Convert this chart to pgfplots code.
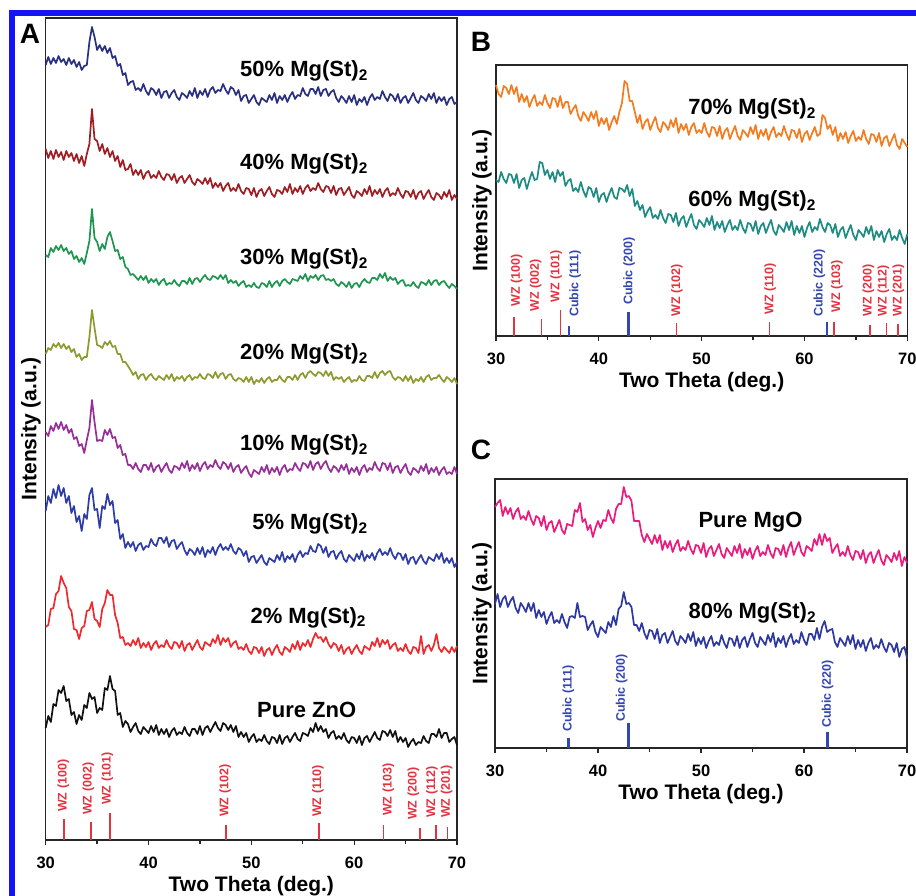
\documentclass[border=0pt]{standalone}
\usepackage{fontspec}
\setmainfont{Liberation Sans}
\usepackage{pgfplots}
\usepackage{pgfplotstable}
\pgfplotsset{compat=1.18}

\definecolor{cZnO}{HTML}{111111}
\definecolor{cTwo}{HTML}{EE2A2E}
\definecolor{cFive}{HTML}{2E3CA5}
\definecolor{cTen}{HTML}{972F98}
\definecolor{cTwenty}{HTML}{8C9A2E}
\definecolor{cThirty}{HTML}{1E9650}
\definecolor{cForty}{HTML}{9E1E24}
\definecolor{cFifty}{HTML}{29307E}
\definecolor{cSeventy}{HTML}{F47C20}
\definecolor{cSixty}{HTML}{1F8C84}
\definecolor{cMgO}{HTML}{EC1A7C}
\definecolor{cEighty}{HTML}{2D38A0}
\definecolor{cWZ}{HTML}{E33340}
\definecolor{cCub}{HTML}{3446B0}
\definecolor{cFrame}{HTML}{1414F5}

% intensities in px above the axis floor, a.u.
\pgfplotstableread{
x zno m2 m5 m10 m20 m30 m40 m50
30.00 112 213 329 408 486 585 691 775
30.25 124 215 344 404 492 583 682 783
30.50 118 231 337 414 490 592 689 776
30.75 136 232 351 409 496 588 681 782
31.00 134 246 342 417 493 594 690 777
31.25 150 249 355 411 497 590 683 784
31.50 147 264 344 418 492 595 688 778
31.75 154 257 352 410 496 589 680 781
32.00 139 252 337 415 491 592 689 775
32.25 141 233 344 407 494 586 683 782
32.50 125 229 327 411 488 589 687 776
32.75 128 211 334 401 491 581 679 780
33.00 116 210 318 403 483 584 686 773
33.25 125 201 324 394 486 578 677 778
33.50 120 212 309 396 480 582 684 770
33.75 135 214 326 387 483 576 674 774
34.00 132 229 321 400 483 587 686 775
34.25 147 230 345 412 503 599 696 798
34.50 141 238 352 440 530 631 731 813
34.75 143 221 330 418 512 602 701 803
35.00 127 219 331 399 495 598 699 790
35.25 132 213 312 400 494 589 689 795
35.50 130 231 334 399 492 596 696 789
35.75 152 237 331 410 498 591 686 794
36.00 150 250 346 405 495 603 692 787
36.25 164 245 335 411 499 608 683 792
36.50 151 245 339 402 493 599 689 782
36.75 149 225 317 403 494 589 679 784
37.00 125 217 320 392 486 590 684 774
37.25 127 202 301 395 486 581 673 776
37.50 113 203 306 385 478 583 680 765
37.75 119 195 292 386 478 573 670 767
38.00 116 197 298 375 474 571 671 755
38.25 108 194 293 375 470 565 676 758
38.50 113 200 298 371 465 566 665 759
38.75 117 195 289 377 468 563 670 750
39.00 109 202 295 371 461 560 665 752
39.25 106 192 297 368 465 564 670 749
39.50 113 197 290 375 466 560 661 756
39.75 110 193 294 375 460 564 667 749
40.00 107 198 293 370 464 557 669 745
40.25 114 190 301 377 466 561 662 752
40.50 108 196 296 368 462 558 665 750
40.75 115 199 294 373 460 561 662 745
41.00 105 192 302 375 464 555 669 751
41.25 111 195 302 368 462 559 663 742
41.50 106 193 297 373 460 561 660 748
41.75 111 200 303 377 465 555 666 749
42.00 103 194 293 370 461 557 665 742
42.25 109 191 299 367 466 556 660 747
42.50 112 198 300 374 459 560 666 750
42.75 105 197 291 373 463 556 657 743
43.00 108 192 295 370 461 554 662 740
43.25 106 199 298 377 464 559 664 747
43.50 113 189 290 372 459 559 657 745
43.75 107 195 285 379 463 556 661 742
44.00 104 197 291 369 465 562 665 749
44.25 111 190 289 375 460 556 658 744
44.50 111 195 285 371 463 561 655 752
44.75 106 200 292 377 462 562 661 742
45.00 114 193 286 369 466 558 659 749
45.25 105 190 293 375 462 562 656 745
45.50 112 198 283 378 461 565 662 751
45.75 114 196 290 371 466 561 656 743
46.00 108 194 287 375 465 560 662 750
46.25 113 201 293 373 462 564 652 753
46.50 118 197 285 380 468 563 657 747
46.75 112 205 292 374 462 561 653 750
47.00 109 195 296 371 466 565 657 749
47.25 117 202 290 378 467 561 649 756
47.50 115 198 293 376 461 565 654 750
47.75 110 202 290 371 465 557 657 746
48.00 115 193 296 377 466 560 649 753
48.25 108 197 289 368 461 557 652 751
48.50 114 199 286 373 459 559 649 745
48.75 103 191 292 375 462 554 656 750
49.00 108 193 290 367 461 557 649 739
49.25 103 190 284 371 458 559 646 744
49.50 107 196 289 374 463 553 652 745
49.75 98 189 278 367 458 555 651 737
50.00 103 186 283 363 463 553 645 741
50.25 106 193 284 370 456 557 652 745
50.50 98 192 277 368 460 553 643 738
50.75 101 187 281 366 458 552 649 735
51.00 99 193 285 373 462 557 651 742
51.25 105 184 278 368 457 556 644 740
51.50 99 190 275 375 461 553 649 738
51.75 96 192 282 366 463 559 653 745
52.00 103 185 280 372 458 553 646 740
52.25 102 191 278 368 460 557 643 747
52.50 97 195 285 373 460 559 650 737
52.75 105 188 280 365 464 554 649 744
53.00 96 185 288 372 460 559 646 740
53.25 102 193 278 375 458 561 653 745
53.50 104 191 284 368 463 558 648 738
53.75 98 188 281 371 463 556 656 744
54.00 103 196 286 370 460 561 646 748
54.25 107 191 278 377 465 560 652 741
54.50 101 199 285 372 460 559 648 745
54.75 99 190 289 369 465 564 654 744
55.00 107 197 283 377 467 561 646 752
55.25 106 194 287 376 462 566 652 746
55.50 104 200 286 372 467 559 655 744
55.75 112 193 294 379 469 564 649 751
56.00 108 201 289 370 466 562 652 751
56.25 117 207 288 376 464 565 650 746
56.50 109 202 296 378 468 560 657 753
56.75 114 203 294 371 467 564 651 744
57.00 108 198 287 376 464 565 648 750
57.25 111 203 293 379 469 560 654 751
57.50 102 196 283 372 464 561 653 744
57.75 107 192 288 368 468 559 647 748
58.00 109 197 289 374 460 561 654 750
58.25 101 195 281 372 463 556 645 742
58.50 104 189 286 368 461 554 651 738
58.75 101 195 289 375 463 558 652 744
59.00 107 186 281 370 458 556 645 741
59.25 100 191 278 376 461 553 649 737
59.50 97 193 285 366 463 558 653 744
59.75 103 186 282 372 458 552 645 738
60.00 102 191 279 368 460 556 642 745
60.25 97 195 286 373 459 557 649 735
60.50 104 189 281 365 464 553 647 741
60.75 95 186 289 372 460 558 644 738
61.00 102 194 279 375 459 561 651 743
61.25 104 192 285 368 464 558 646 735
61.50 98 190 282 372 464 557 654 742
61.75 103 198 287 370 462 562 644 746
62.00 108 194 280 378 468 562 650 740
62.25 102 202 287 372 462 560 646 743
62.50 100 193 291 369 467 566 651 741
62.75 109 200 285 377 469 562 643 749
63.00 108 196 288 376 465 567 649 743
63.25 104 200 285 370 468 559 652 739
63.50 110 191 292 377 469 563 644 746
63.75 103 195 285 367 463 560 647 744
64.00 109 197 281 373 460 562 645 739
64.25 98 189 287 374 463 556 652 746
64.50 103 192 286 367 462 559 646 737
64.75 98 189 280 372 459 560 642 742
65.00 102 196 286 376 464 554 649 744
65.25 93 189 276 368 459 555 648 737
65.50 98 186 282 365 464 554 643 742
65.75 101 193 283 372 457 558 650 747
66.00 95 192 276 370 461 554 641 740
66.25 98 187 281 367 459 552 647 737
66.50 97 204 285 374 463 558 649 744
66.75 104 186 279 369 458 557 641 742
67.00 99 193 276 376 463 555 646 739
67.25 97 195 283 366 465 560 650 746
67.50 106 189 281 372 460 555 643 741
67.75 106 195 279 368 462 559 640 747
68.00 103 206 286 373 462 560 647 737
68.25 111 192 281 365 465 555 645 743
68.50 102 188 287 370 461 558 641 739
68.75 107 193 277 373 458 559 648 743
69.00 107 190 282 366 463 555 643 735
69.25 98 187 277 368 461 552 650 741
69.50 101 193 282 366 458 556 640 743
69.75 103 188 273 373 462 554 645 736
70.00 95 194 278 366 456 551 641 738
}\tabA

\pgfplotstableread{
x m70 m60
30.00 251 156
30.25 242 154
30.50 239 164
30.75 250 157
31.00 248 153
31.25 242 162
31.50 251 161
31.75 242 153
32.00 249 162
32.25 234 148
32.50 242 156
32.75 234 158
33.00 240 147
33.25 229 156
33.50 236 164
33.75 241 156
34.00 230 157
34.25 234 174
34.50 231 173
34.75 241 161
35.00 233 166
35.25 228 157
35.50 238 164
35.75 237 154
36.00 229 166
36.25 240 160
36.50 228 164
36.75 234 150
37.00 234 155
37.25 222 157
37.50 227 145
37.75 231 148
38.00 220 144
38.25 215 154
38.50 224 145
38.75 220 139
39.00 215 149
39.25 224 147
39.50 217 139
39.75 225 148
40.00 210 134
40.25 218 141
40.50 212 143
40.75 218 134
41.00 206 142
41.25 214 148
41.50 220 139
41.75 212 137
42.00 224 148
42.25 233 147
42.50 255 144
42.75 252 151
43.00 235 140
43.25 235 147
43.50 224 130
43.75 213 135
44.00 221 126
44.25 207 131
44.50 214 119
44.75 217 125
45.00 206 129
45.25 213 118
45.50 219 121
45.75 208 117
46.00 204 126
46.25 214 118
46.50 211 113
46.75 206 122
47.00 216 121
47.25 209 114
47.50 218 123
47.75 203 110
48.00 212 117
48.25 206 120
48.50 212 109
48.75 201 116
49.00 209 122
49.25 213 111
49.50 203 107
49.75 206 116
50.00 203 113
50.25 213 109
50.50 204 118
50.75 199 111
51.00 209 120
51.25 208 106
51.50 200 114
51.75 210 108
52.00 197 115
52.25 205 104
52.50 208 111
52.75 197 116
53.00 204 106
53.25 210 110
53.50 200 106
53.75 196 116
54.00 206 108
54.25 203 103
54.50 199 113
54.75 209 112
55.00 202 105
55.25 211 115
55.50 197 102
55.75 206 110
56.00 200 113
56.25 207 103
56.50 196 110
56.75 204 116
57.00 209 105
57.25 199 101
57.50 203 111
57.75 200 108
58.00 210 104
58.25 202 114
58.50 196 106
58.75 206 115
59.00 205 101
59.25 198 110
59.50 207 103
59.75 194 110
60.00 202 99
60.25 205 108
60.50 196 114
60.75 203 104
61.00 209 109
61.25 200 106
61.50 202 117
61.75 221 109
62.00 218 104
62.25 207 113
62.50 211 111
62.75 201 103
63.00 209 112
63.25 195 99
63.50 203 106
63.75 197 109
64.00 204 98
64.25 193 105
64.50 200 111
64.75 205 101
65.00 195 96
65.25 199 106
65.50 196 103
65.75 206 99
66.00 197 109
66.25 192 102
66.50 202 110
66.75 201 96
67.00 194 105
67.25 203 99
67.50 190 105
67.75 198 94
68.00 200 102
68.25 190 107
68.50 196 96
68.75 202 100
69.00 191 96
69.25 187 106
69.50 197 98
69.75 193 92
70.00 189 102
}\tabB

\pgfplotstableread{
x mgo m80
30.00 241 144
30.25 245 154
30.50 248 141
30.75 232 149
31.00 241 152
31.25 234 141
31.50 240 147
31.75 229 151
32.00 236 140
32.25 240 135
32.50 229 145
32.75 232 141
33.00 228 136
33.25 237 145
33.50 229 137
33.75 223 145
34.00 232 130
34.25 230 138
34.50 222 131
34.75 232 136
35.00 218 124
35.25 225 131
35.50 227 136
35.75 216 125
36.00 222 128
36.25 228 125
36.50 218 134
36.75 214 126
37.00 224 120
37.25 223 131
37.50 222 132
37.75 238 130
38.00 236 145
38.25 245 131
38.50 226 132
38.75 229 131
39.00 218 118
39.25 223 123
39.50 211 127
39.75 220 116
40.00 227 111
40.25 220 121
40.50 228 118
40.75 227 115
41.00 238 126
41.25 230 121
41.50 225 132
41.75 239 123
42.00 244 139
42.25 244 142
42.50 261 156
42.75 251 144
43.00 252 145
43.25 247 141
43.50 227 123
43.75 227 123
44.00 227 117
44.25 213 125
44.50 206 115
44.75 214 109
45.00 209 118
45.25 204 117
45.50 213 109
45.75 205 119
46.00 213 105
46.25 198 113
46.50 207 115
46.75 200 105
47.00 207 111
47.25 196 117
47.50 203 107
47.75 208 103
48.00 197 112
48.25 201 109
48.50 198 105
48.75 207 114
49.00 199 107
49.25 194 116
49.50 203 102
49.75 202 110
50.00 195 104
50.25 205 111
50.50 191 100
50.75 199 107
51.00 202 112
51.25 192 102
51.50 198 106
51.75 204 103
52.00 194 113
52.25 190 105
52.50 200 100
52.75 196 110
53.00 192 109
53.25 202 102
53.50 195 112
53.75 204 100
54.00 190 108
54.25 199 111
54.50 193 101
54.75 200 109
55.00 189 115
55.25 197 105
55.50 202 101
55.75 192 111
56.00 196 107
56.25 193 103
56.50 203 113
56.75 195 106
57.00 190 115
57.25 200 101
57.50 199 110
57.75 193 105
58.00 203 112
58.25 191 101
58.50 200 109
58.75 206 114
59.00 193 104
59.25 200 108
59.50 206 105
59.75 196 116
60.00 192 108
60.25 202 103
60.50 200 114
60.75 197 114
61.00 209 108
61.25 203 120
61.50 214 109
61.75 203 121
62.00 214 127
62.25 207 116
62.50 210 118
62.75 195 119
63.00 200 106
63.25 204 101
63.50 192 110
63.75 196 106
64.00 192 102
64.25 202 112
64.50 193 104
64.75 188 113
65.00 197 99
65.25 196 108
65.50 189 101
65.75 198 108
66.00 185 97
66.25 193 105
66.50 196 110
66.75 185 99
67.00 192 103
67.25 198 100
67.50 188 109
67.75 183 101
68.00 193 96
68.25 190 105
68.50 186 103
68.75 195 96
69.00 188 105
69.25 197 91
69.50 182 99
69.75 191 101
70.00 185 90
}\tabC

\newcommand\serfont{\fontsize{22}{22}\selectfont\bfseries}
\newcommand\stkfont{\fontsize{12.5}{12.5}\selectfont\bfseries}

\tikzset{
  stk/.style={rotate=90, anchor=west, inner sep=0pt, font=\stkfont},
  ser/.style={anchor=base west, inner sep=0pt, font=\serfont},
}

\pgfplotsset{
  xrd/.style={
    scale only axis,
    anchor=south west,
    xmin=30, xmax=70, ymin=0,
    xtick={30,40,50,60,70},
    minor x tick num=1,
    ytick=\empty,
    xtick pos=left,
    tick align=outside,
    major tick length=5pt,
    minor tick length=4pt,
    tick style={line width=1.3pt, color=black!85},
    axis line style={line width=1.4pt, color=black!85},
    /pgf/number format/assume math mode=true,
    tick label style={font=\fontsize{16.5}{16.5}\selectfont\bfseries},
    xticklabel style={anchor=center, yshift=-18pt},
    label style={font=\fontsize{21}{21}\selectfont\bfseries},
    xlabel={Two Theta (deg.)},
    ylabel={Intensity (a.u.)},
    xlabel style={anchor=center},
    ylabel style={anchor=center},
    clip=false,
    every axis plot/.append style={line width=1.7pt, line join=round},
  },
}

\begin{document}
\begin{tikzpicture}
\useasboundingbox (0pt,0pt) rectangle (916pt,895pt);
\draw[cFrame, line width=6pt, line join=miter] (12pt,-10pt) -- (12pt,882pt) -- (930pt,882pt);

% ---- A ----
\begin{axis}[xrd, at={(45.7pt,55pt)}, width=411.3pt, height=822pt, ymax=822,
  xlabel style={at={(axis description cs:0.5,-0.056)}},
  ylabel style={at={(axis description cs:-0.0357,0.5)}}]
\addplot[cZnO] table[x=x, y=zno] {\tabA};
\addplot[cTwo] table[x=x, y=m2] {\tabA};
\addplot[cFive] table[x=x, y=m5] {\tabA};
\addplot[cTen] table[x=x, y=m10] {\tabA};
\addplot[cTwenty] table[x=x, y=m20] {\tabA};
\addplot[cThirty] table[x=x, y=m30] {\tabA};
\addplot[cForty] table[x=x, y=m40] {\tabA};
\addplot[cFifty] table[x=x, y=m50] {\tabA};
\addplot[ycomb, no markers, cWZ, line width=1.5pt] coordinates {
  (31.77,21) (34.42,18) (36.25,27) (47.54,15) (56.60,17) (62.86,15) (66.38,12) (67.96,15) (69.10,13)};
\node[stk, text=cWZ] at (axis cs:31.71,28) {WZ (100)};
\node[stk, text=cWZ] at (axis cs:34.15,25) {WZ (002)};
\node[stk, text=cWZ] at (axis cs:35.99,35) {WZ (101)};
\node[stk, text=cWZ] at (axis cs:47.44,23) {WZ (102)};
\node[stk, text=cWZ] at (axis cs:56.46,23) {WZ (110)};
\node[stk, text=cWZ] at (axis cs:63.33,24) {WZ (103)};
\node[stk, text=cWZ] at (axis cs:65.76,20) {WZ (200)};
\node[stk, text=cWZ] at (axis cs:67.55,22) {WZ (112)};
\node[stk, text=cWZ] at (axis cs:69.00,22) {WZ (201)};
\node[ser] at (axis cs:48.9,763) {50\% Mg(St)\textsubscript{2}};
\node[ser] at (axis cs:48.9,670) {40\% Mg(St)\textsubscript{2}};
\node[ser] at (axis cs:48.9,575) {30\% Mg(St)\textsubscript{2}};
\node[ser] at (axis cs:48.9,480) {20\% Mg(St)\textsubscript{2}};
\node[ser] at (axis cs:48.9,389) {10\% Mg(St)\textsubscript{2}};
\node[ser] at (axis cs:50.07,310) {5\% Mg(St)\textsubscript{2}};
\node[ser] at (axis cs:49.9,217) {2\% Mg(St)\textsubscript{2}};
\node[ser] at (axis cs:50.55,123) {Pure ZnO};
\end{axis}

% ---- B ----
\begin{axis}[xrd, at={(496pt,559pt)}, width=411.3pt, height=271pt, ymax=271,
  xlabel style={at={(axis description cs:0.5,-0.17)}},
  ylabel style={at={(axis description cs:-0.034,0.5)}}]
\addplot[cSeventy] table[x=x, y=m70] {\tabB};
\addplot[cSixty] table[x=x, y=m60] {\tabB};
\addplot[ycomb, no markers, cWZ, line width=1.5pt] coordinates {
  (31.77,19) (34.42,17) (36.25,26) (47.54,13) (56.60,14) (62.86,14) (66.38,11) (67.96,13) (69.10,12)};
\addplot[ycomb, no markers, cCub, line width=2.4pt] coordinates {
  (37.1,10) (42.87,24) (62.2,14)};
\node[stk, text=cWZ] at (axis cs:32.01,29) {WZ (100)};
\node[stk, text=cWZ] at (axis cs:33.86,24) {WZ (002)};
\node[stk, text=cWZ] at (axis cs:35.84,33) {WZ (101)};
\node[stk, text=cCub] at (axis cs:37.69,19) {Cubic (111)};
\node[stk, text=cCub] at (axis cs:42.94,31) {Cubic (200)};
\node[stk, text=cWZ] at (axis cs:47.58,19) {WZ (102)};
\node[stk, text=cWZ] at (axis cs:56.65,21) {WZ (110)};
\node[stk, text=cCub] at (axis cs:61.45,19) {Cubic (220)};
\node[stk, text=cWZ] at (axis cs:63.14,23) {WZ (103)};
\node[stk, text=cWZ] at (axis cs:66.22,19) {WZ (200)};
\node[stk, text=cWZ] at (axis cs:67.68,19) {WZ (112)};
\node[stk, text=cWZ] at (axis cs:69.14,19) {WZ (201)};
\node[ser] at (axis cs:48.68,221) {70\% Mg(St)\textsubscript{2}};
\node[ser] at (axis cs:48.68,129) {60\% Mg(St)\textsubscript{2}};
\end{axis}

% ---- C ----
\begin{axis}[xrd, at={(495pt,147pt)}, width=412pt, height=269pt, ymax=269,
  xlabel style={at={(axis description cs:0.5,-0.171)}},
  ylabel style={at={(axis description cs:-0.0316,0.5)}}]
\addplot[cMgO] table[x=x, y=mgo] {\tabC};
\addplot[cEighty] table[x=x, y=m80] {\tabC};
\addplot[ycomb, no markers, cCub, line width=2.4pt] coordinates {
  (37.15,10) (42.98,25) (62.3,16)};
\node[stk, text=cCub] at (axis cs:37.12,16) {Cubic (111)};
\node[stk, text=cCub] at (axis cs:42.3,26) {Cubic (200)};
\node[stk, text=cCub] at (axis cs:62.3,20) {Cubic (220)};
\node[ser] at (axis cs:49.74,220) {Pure MgO};
\node[ser] at (axis cs:48.77,129) {80\% Mg(St)\textsubscript{2}};
\end{axis}

\node[font=\fontsize{28}{28}\selectfont\bfseries] at (30pt,861pt) {A};
\node[font=\fontsize{28}{28}\selectfont\bfseries] at (481pt,853pt) {B};
\node[font=\fontsize{28}{28}\selectfont\bfseries] at (481pt,445pt) {C};
\end{tikzpicture}
\end{document}
